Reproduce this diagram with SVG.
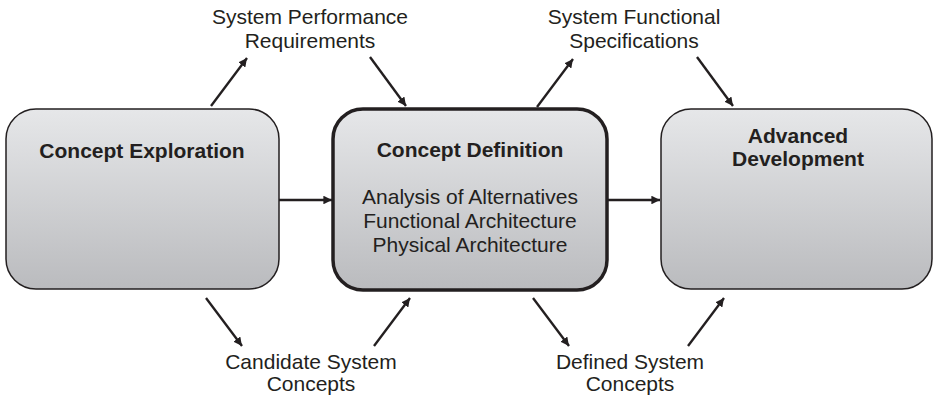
<svg xmlns="http://www.w3.org/2000/svg" width="933" height="398" viewBox="0 0 933 398">
<defs>
<linearGradient id="g" x1="0" y1="0" x2="0" y2="1">
<stop offset="0" stop-color="#e6e7e9"/>
<stop offset="1" stop-color="#babbbe"/>
</linearGradient>
<marker id="ah" viewBox="0 0 10 10" refX="10" refY="5" markerWidth="3.6" markerHeight="3.6" orient="auto" markerUnits="strokeWidth">
<path d="M0,0 L10,5 L0,10 z" fill="#231f20"/>
</marker>
<style>
.box{fill:url(#g);stroke:#231f20;stroke-width:1.5}
.main{stroke-width:3.5}
.t{font-family:"Liberation Sans",Arial,sans-serif;font-size:21px;fill:#231f20;text-anchor:middle}
.b{font-weight:bold}
.c{stroke:#231f20;stroke-width:2.4;fill:none;marker-end:url(#ah)}
</style>
</defs>
<rect width="933" height="398" fill="#ffffff"/>
<g id="concept-exploration">
<rect class="box" x="6" y="109" width="273" height="180" rx="30" ry="30"/>
<text class="t b" x="142" y="158">Concept Exploration</text>
</g>
<g id="concept-definition">
<rect class="box main" x="333" y="109" width="274" height="181" rx="30" ry="30"/>
<text class="t b" x="470" y="157">Concept Definition</text>
<text class="t" x="470" y="204">Analysis of Alternatives</text>
<text class="t" x="470" y="228">Functional Architecture</text>
<text class="t" x="470" y="252">Physical Architecture</text>
</g>
<g id="advanced-development">
<rect class="box" x="661" y="109" width="271" height="180" rx="30" ry="30"/>
<text class="t b" x="798" y="143">Advanced</text>
<text class="t b" x="798" y="166">Development</text>
</g>
<g id="labels">
<text class="t" x="310" y="24">System Performance</text>
<text class="t" x="310" y="48">Requirements</text>
<text class="t" x="634" y="24">System Functional</text>
<text class="t" x="634" y="48">Specifications</text>
<text class="t" x="311" y="369">Candidate System</text>
<text class="t" x="311" y="391">Concepts</text>
<text class="t" x="630" y="369">Defined System</text>
<text class="t" x="630" y="391">Concepts</text>
</g>
<g id="connectors">
<line class="c" x1="279" y1="200" x2="332" y2="200"/>
<line class="c" x1="607" y1="200" x2="660" y2="200"/>
<line class="c" x1="211" y1="106" x2="247" y2="58"/>
<line class="c" x1="370" y1="57" x2="406" y2="106"/>
<line class="c" x1="537" y1="107" x2="573" y2="59"/>
<line class="c" x1="697" y1="57" x2="733" y2="106"/>
<line class="c" x1="206" y1="298" x2="242" y2="346"/>
<line class="c" x1="374" y1="346" x2="410" y2="298"/>
<line class="c" x1="533" y1="298" x2="569" y2="346"/>
<line class="c" x1="688" y1="346" x2="724" y2="298"/>
</g>
</svg>
